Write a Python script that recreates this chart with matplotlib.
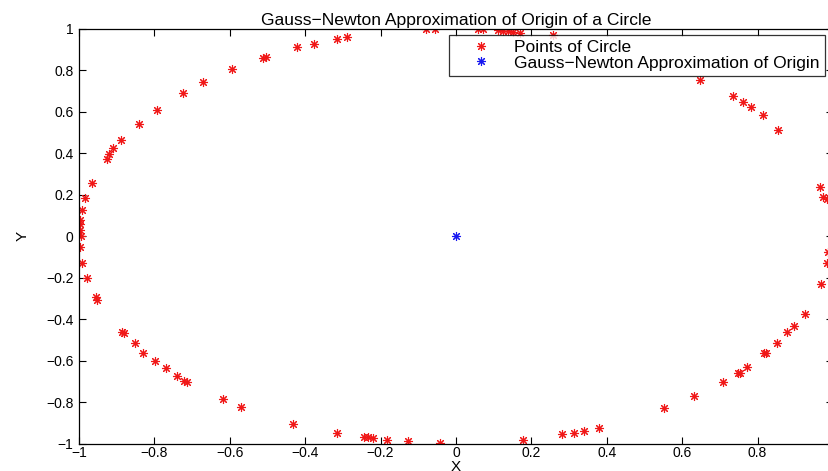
import numpy as np
import matplotlib.pyplot as plt
from matplotlib.ticker import FuncFormatter

plt.rcParams['font.family'] = ['Liberation Sans', 'DejaVu Sans']

# points (x, y)
circle_x = [-0.511, -0.504, -0.593, -0.670, -0.725, -0.794, -0.840, -0.889, -0.909, -0.920,
            -0.925, -0.966, -0.984, -0.993, -0.997, -0.997, -0.997, -0.995, -0.997, -0.993,
            -0.980, -0.955, -0.952, -0.887, -0.881, -0.851, -0.831, -0.798, -0.770, -0.741,
            -0.721, -0.713, -0.617, -0.571, -0.432, -0.316, -0.244, -0.233, -0.219, -0.184,
            -0.128, -0.042, 0.177, 0.282, 0.313, 0.340, 0.378, 0.553, 0.631, 0.709,
            0.749, 0.753, 0.771, 0.818, 0.822, 0.852, 0.879, 0.897, 0.926, 0.968,
            0.983, 0.988, 0.983, 0.974, 0.966, 0.853, 0.813, 0.782, 0.762, 0.734,
            0.647, 0.258, 0.170, 0.152, 0.139, 0.125, 0.112, 0.072, 0.059, -0.056,
            -0.080, -0.290, -0.316, -0.377, -0.421]
circle_y = [0.861, 0.864, 0.808, 0.744, 0.692, 0.610, 0.541, 0.463, 0.426, 0.395,
            0.374, 0.259, 0.185, 0.125, 0.077, 0.058, 0.032, 0.000, -0.050, -0.128,
            -0.202, -0.292, -0.306, -0.464, -0.469, -0.517, -0.562, -0.601, -0.638, -0.673,
            -0.697, -0.702, -0.787, -0.823, -0.904, -0.948, -0.967, -0.970, -0.972, -0.983,
            -0.988, -0.996, -0.983, -0.954, -0.948, -0.938, -0.927, -0.830, -0.771, -0.702,
            -0.659, -0.659, -0.633, -0.565, -0.565, -0.517, -0.464, -0.432, -0.373, -0.228,
            -0.130, -0.076, 0.182, 0.189, 0.238, 0.514, 0.583, 0.623, 0.647, 0.675,
            0.755, 0.969, 0.982, 0.985, 0.988, 0.989, 0.993, 0.998, 0.998, 0.998,
            0.998, 0.961, 0.953, 0.929, 0.912]
origin_x = [0.0]
origin_y = [0.0]
ticks = [-1, -0.8, -0.6, -0.4, -0.2, 0, 0.2, 0.4, 0.6, 0.8, 1]

fig = plt.figure(figsize=(8.29, 4.71), dpi=100)
W, H = 829, 471
ax = fig.add_axes([79 / W, 1 - 443.5 / H, 754 / W, 414.5 / H])

star = (8, 2, 0)  # matlab-like asterisk
ax.plot(circle_x, circle_y, color='#f01818', marker=star, ls='none', ms=6.5, mew=0.8,
        label='Points of Circle')
ax.plot(origin_x, origin_y, color='#1818f0', marker=star, ls='none', ms=6.5, mew=0.8,
        label='Gauss\u2212Newton Approximation of Origin')

ax.set_xlim(-1, 1)
ax.set_ylim(-1, 1)
ax.set_xticks(ticks)
ax.set_yticks(ticks)
fmt = FuncFormatter(lambda v, p: ('%g' % v).replace('-', '\u2212'))
ax.xaxis.set_major_formatter(fmt)
ax.yaxis.set_major_formatter(fmt)
ax.tick_params(direction='in', top=True, right=True, length=5, width=0.8,
               labelsize=10)
ax.tick_params(axis='x', pad=2)
ax.tick_params(axis='y', pad=4)
ax.get_xticklabels()[-1].set_visible(False)
for s in ax.spines.values():
    s.set_linewidth(0.9)

ax.set_title('Gauss\u2212Newton Approximation of Origin of a Circle', fontsize=12.6, pad=3)
ax.set_xlabel('X', fontsize=11, labelpad=0)
ax.set_ylabel('Y', fontsize=11, labelpad=12)

leg = ax.legend(loc='upper right', bbox_to_anchor=(0.989, 0.9855), fontsize=12.5,
                frameon=True, fancybox=False, edgecolor='black', borderpad=0.3,
                labelspacing=0.0, handletextpad=0.36, borderaxespad=0, handlelength=3.1)
leg.get_frame().set_linewidth(0.9)

fig.savefig('out.png', dpi=100)
